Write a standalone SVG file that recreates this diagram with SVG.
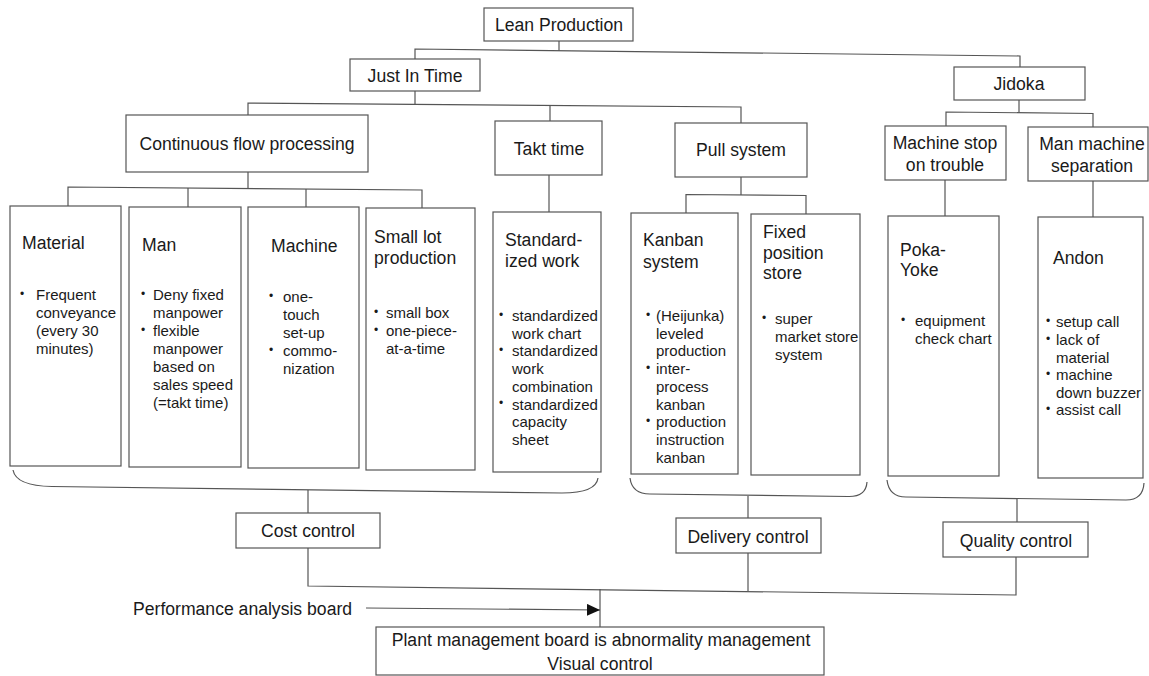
<svg xmlns="http://www.w3.org/2000/svg" width="1149" height="676" viewBox="0 0 1149 676">
  <style>
    .box { fill: #ffffff; stroke: #555555; stroke-width: 1.2; }
    .ln { fill: none; stroke: #555555; stroke-width: 1.2; }
    text { font-family: "Liberation Sans", Arial, sans-serif; fill: #1a1a1a; }
    .t { font-size: 17.6px; }
    .c { text-anchor: middle; }
    .b { font-size: 15px; }
    .dot { font-size: 12px; }
  </style>
  <defs>
    <marker id="arrow" viewBox="0 0 13 12" refX="13" refY="6" markerWidth="13" markerHeight="12" markerUnits="userSpaceOnUse" orient="auto">
      <path d="M0,0 L13,6 L0,12 Z" fill="#111111"/>
    </marker>
  </defs>

  <rect width="1149" height="676" fill="#ffffff"/>

  <!-- connectors -->
  <g id="connectors">
    <!-- Lean Production to Just In Time / Jidoka -->
    <path class="ln" d="M559,41 V50.7"/>
    <path class="ln" d="M415,59 V49 L1020,56 V67"/>
    <!-- Just In Time to its three branches -->
    <path class="ln" d="M415,91 V104.4"/>
    <path class="ln" d="M248,115 V103 L741,107 V123"/>
    <path class="ln" d="M550,105.4 V121"/>
    <!-- Jidoka branches -->
    <path class="ln" d="M1019,100 V112.5"/>
    <path class="ln" d="M946,126 V112 L1093,113.5 V127"/>
    <!-- Continuous flow processing to its four boxes -->
    <path class="ln" d="M248,172 V188.6"/>
    <path class="ln" d="M68,206 V187 L422,190 V208"/>
    <path class="ln" d="M188,188 V207"/>
    <path class="ln" d="M306,189 V207"/>
    <!-- Takt time -->
    <path class="ln" d="M549,175 V212"/>
    <!-- Pull system -->
    <path class="ln" d="M741,177 V195"/>
    <path class="ln" d="M686,213 V194.5 L806,195.5 V214"/>
    <!-- Jidoka sub-branches -->
    <path class="ln" d="M945,180 V216"/>
    <path class="ln" d="M1093,181 V217"/>

    <!-- grouping braces under the columns -->
    <path class="ln" d="M13,470 Q16,486 52,486.5 L562,493 Q596,493 598,478"/>
    <path class="ln" d="M630,478 Q632,494 650,494 L848,496.5 Q866,497 867,482"/>
    <path class="ln" d="M887,480 Q889,497 906,497 L1126,500 Q1143,500 1144,483"/>
    <path class="ln" d="M308,490 V513"/>
    <path class="ln" d="M748,496 V518"/>
    <path class="ln" d="M1017,499 V523"/>

    <!-- control boxes down to the plant management board -->
    <path class="ln" d="M308,548 V586 L1016,595 V557"/>
    <path class="ln" d="M748,553 V591"/>
    <path class="ln" d="M600,589 V627"/>
    <path class="ln" d="M366,608 L600,610" marker-end="url(#arrow)"/>
  </g>

  <!-- top levels -->
  <g id="lean-production">
    <rect class="box" x="484" y="8" width="149" height="33"/>
    <text class="t c" x="559" y="31">Lean Production</text>
  </g>
  <g id="just-in-time">
    <rect class="box" x="350" y="59" width="130" height="32"/>
    <text class="t c" x="415" y="82">Just In Time</text>
  </g>
  <g id="jidoka">
    <rect class="box" x="954" y="67" width="131" height="33"/>
    <text class="t c" x="1019" y="90">Jidoka</text>
  </g>

  <!-- second level -->
  <g id="continuous-flow">
    <rect class="box" x="126" y="115" width="242" height="57"/>
    <text class="t c" x="247" y="150">Continuous flow processing</text>
  </g>
  <g id="takt-time">
    <rect class="box" x="495" y="121" width="107" height="54"/>
    <text class="t c" x="549" y="155">Takt time</text>
  </g>
  <g id="pull-system">
    <rect class="box" x="675" y="123" width="132" height="54"/>
    <text class="t c" x="741" y="156">Pull system</text>
  </g>
  <g id="machine-stop">
    <rect class="box" x="885" y="126" width="121" height="54"/>
    <text class="t c" x="945"><tspan x="945" y="149">Machine stop</tspan><tspan x="945" y="171">on trouble</tspan></text>
  </g>
  <g id="man-machine">
    <rect class="box" x="1028" y="127" width="120" height="54"/>
    <text class="t c" x="1092"><tspan x="1092" y="150">Man machine</tspan><tspan x="1092" y="172">separation</tspan></text>
  </g>

  <!-- detail columns -->
  <g id="material">
    <rect class="box" x="10" y="206" width="111" height="260"/>
    <text class="t" x="22" y="249">Material</text>
    <text class="dot" x="20" y="298">•</text>
    <text class="b"><tspan x="36" y="300">Frequent</tspan><tspan x="36" y="318">conveyance</tspan><tspan x="36" y="336">(every 30</tspan><tspan x="36" y="354">minutes)</tspan></text>
  </g>
  <g id="man">
    <rect class="box" x="129" y="207" width="112" height="260"/>
    <text class="t" x="142" y="251">Man</text>
    <text class="dot"><tspan x="141" y="298">•</tspan><tspan x="141" y="334">•</tspan></text>
    <text class="b"><tspan x="153" y="300">Deny fixed</tspan><tspan x="153" y="318">manpower</tspan><tspan x="153" y="336">flexible</tspan><tspan x="153" y="354">manpower</tspan><tspan x="153" y="372">based on</tspan><tspan x="153" y="390">sales speed</tspan><tspan x="153" y="408">(=takt time)</tspan></text>
  </g>
  <g id="machine">
    <rect class="box" x="248" y="207" width="111" height="261"/>
    <text class="t" x="271" y="252">Machine</text>
    <text class="dot"><tspan x="269" y="300">•</tspan><tspan x="269" y="354">•</tspan></text>
    <text class="b"><tspan x="283" y="302">one-</tspan><tspan x="283" y="320">touch</tspan><tspan x="283" y="338">set-up</tspan><tspan x="283" y="356">commo-</tspan><tspan x="283" y="374">nization</tspan></text>
  </g>
  <g id="small-lot">
    <rect class="box" x="366" y="208" width="109" height="262"/>
    <text class="t"><tspan x="374" y="243">Small lot</tspan><tspan x="374" y="264">production</tspan></text>
    <text class="dot"><tspan x="374" y="316">•</tspan><tspan x="374" y="334">•</tspan></text>
    <text class="b"><tspan x="386" y="318">small box</tspan><tspan x="386" y="336">one-piece-</tspan><tspan x="386" y="354">at-a-time</tspan></text>
  </g>
  <g id="standardized-work">
    <rect class="box" x="493" y="212" width="108" height="260"/>
    <text class="t"><tspan x="505" y="246">Standard-</tspan><tspan x="505" y="267">ized work</tspan></text>
    <text class="dot"><tspan x="499" y="319">•</tspan><tspan x="499" y="354">•</tspan><tspan x="499" y="407">•</tspan></text>
    <text class="b"><tspan x="512" y="321">standardized</tspan><tspan x="512" y="338.7">work chart</tspan><tspan x="512" y="356.4">standardized</tspan><tspan x="512" y="374.1">work</tspan><tspan x="512" y="391.8">combination</tspan><tspan x="512" y="409.5">standardized</tspan><tspan x="512" y="427.2">capacity</tspan><tspan x="512" y="445">sheet</tspan></text>
  </g>
  <g id="kanban-system">
    <rect class="box" x="631" y="213" width="107" height="261"/>
    <text class="t"><tspan x="643" y="246">Kanban</tspan><tspan x="643" y="268">system</tspan></text>
    <text class="dot"><tspan x="646" y="319">•</tspan><tspan x="646" y="372">•</tspan><tspan x="646" y="425">•</tspan></text>
    <text class="b"><tspan x="656" y="321">(Heijunka)</tspan><tspan x="656" y="338.7">leveled</tspan><tspan x="656" y="356.4">production</tspan><tspan x="656" y="374.1">inter-</tspan><tspan x="656" y="391.8">process</tspan><tspan x="656" y="409.5">kanban</tspan><tspan x="656" y="427.2">production</tspan><tspan x="656" y="444.9">instruction</tspan><tspan x="656" y="462.6">kanban</tspan></text>
  </g>
  <g id="fixed-position-store">
    <rect class="box" x="751" y="214" width="109" height="261"/>
    <text class="t"><tspan x="763" y="238">Fixed</tspan><tspan x="763" y="259">position</tspan><tspan x="763" y="279">store</tspan></text>
    <text class="dot" x="762" y="322">•</text>
    <text class="b"><tspan x="775" y="324">super</tspan><tspan x="775" y="342">market store</tspan><tspan x="775" y="360">system</tspan></text>
  </g>
  <g id="poka-yoke">
    <rect class="box" x="888" y="216" width="111" height="260"/>
    <text class="t"><tspan x="900" y="256">Poka-</tspan><tspan x="900" y="276">Yoke</tspan></text>
    <text class="dot" x="901" y="324">•</text>
    <text class="b"><tspan x="915" y="326">equipment</tspan><tspan x="915" y="343.5">check chart</tspan></text>
  </g>
  <g id="andon">
    <rect class="box" x="1038" y="217" width="105" height="261"/>
    <text class="t" x="1053" y="264">Andon</text>
    <text class="dot"><tspan x="1046" y="325">•</tspan><tspan x="1046" y="343">•</tspan><tspan x="1046" y="378">•</tspan><tspan x="1046" y="413">•</tspan></text>
    <text class="b"><tspan x="1056" y="327">setup call</tspan><tspan x="1056" y="345">lack of</tspan><tspan x="1056" y="362.5">material</tspan><tspan x="1056" y="380">machine</tspan><tspan x="1056" y="397.5">down buzzer</tspan><tspan x="1056" y="415">assist call</tspan></text>
  </g>

  <!-- control level -->
  <g id="cost-control">
    <rect class="box" x="236" y="513" width="144" height="35"/>
    <text class="t c" x="308" y="537">Cost control</text>
  </g>
  <g id="delivery-control">
    <rect class="box" x="676" y="518" width="145" height="35"/>
    <text class="t c" x="748" y="543">Delivery control</text>
  </g>
  <g id="quality-control">
    <rect class="box" x="943" y="522" width="145" height="35"/>
    <text class="t c" x="1016" y="547">Quality control</text>
  </g>

  <g id="performance-analysis-board">
    <text class="t" x="133" y="615">Performance analysis board</text>
  </g>
  <g id="plant-management-board">
    <rect class="box" x="376" y="627" width="448" height="48"/>
    <text class="t c"><tspan x="601" y="646">Plant management board is abnormality management</tspan><tspan x="600" y="670">Visual control</tspan></text>
  </g>
</svg>
